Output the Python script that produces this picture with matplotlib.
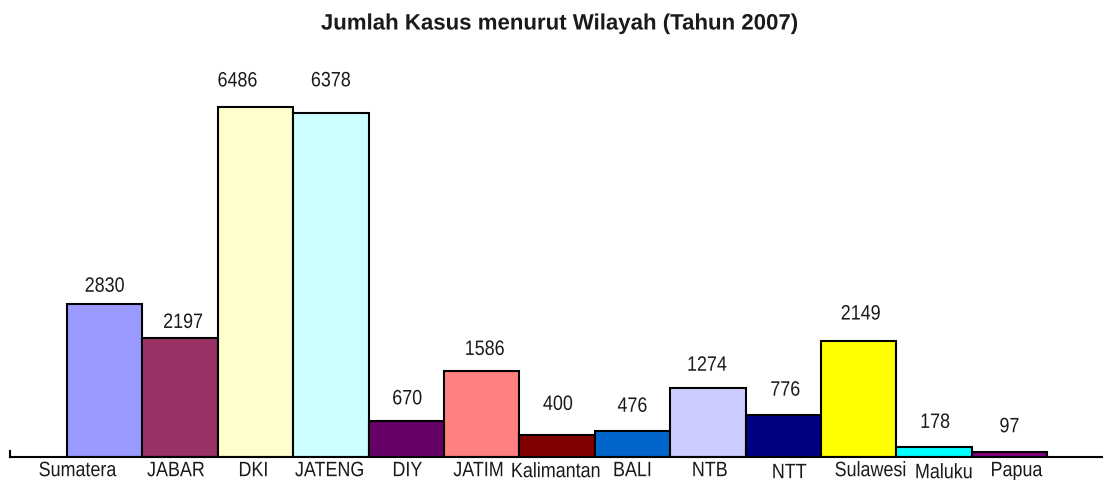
import matplotlib.pyplot as plt
import matplotlib.transforms as mtransforms
import matplotlib.patheffects as patheffects
import numpy as np

plt.rcParams['font.family'] = ['Liberation Sans', 'DejaVu Sans']

wilayah = ['Sumatera', 'JABAR', 'DKI', 'JATENG', 'DIY', 'JATIM', 'Kalimantan',
           'BALI', 'NTB', 'NTT', 'Sulawesi', 'Maluku', 'Papua']
kasus = [2830, 2197, 6486, 6378, 670, 1586, 400, 476, 1274, 776, 2149, 178, 97]

warna = ['#9999FF', '#993366', '#FFFFCC', '#CCFFFF', '#660066', '#FF8080', '#800000',
         '#0066CC', '#CCCCFF', '#000080', '#FFFF00', '#00FFFF', '#800080']

# label nudges in pixels (value labels and category labels were hand-placed)
val_dx = [0, 3, -18, 0, 1, 3, 1, 0, -1, 2, 2, 1, 0]
val_dy = [18, 16, 26, 32, 22, 22, 31, 25, 23, 25, 27, 25, 25]
cat_dx = [-27, -4, -2, -1, 1, -3, -1, 0, 2, 6, 12, 10, 7]
cat_dy = [0, 0, 0, 0, 0, 0, 1, 0, 0, 2, 0, 2, 0]


class Narrow(patheffects.AbstractPathEffect):
    """squeeze glyphs horizontally around their centre (no narrow font here)"""
    def __init__(self, sx):
        super().__init__()
        self.sx = sx

    def draw_path(self, renderer, gc, tpath, affine, rgbFace=None):
        ext = tpath.get_extents()
        cx = (ext.x0 + ext.x1) / 2
        a = mtransforms.Affine2D().translate(-cx, 0).scale(self.sx, 1).translate(cx, 0) + affine
        renderer.draw_path(gc, tpath, a, rgbFace)


narrow = [Narrow(0.86)]
txt_col = '#1a1a1a'

W, H = 1103, 481
fig = plt.figure(figsize=(W / 100, H / 100), dpi=100)

base_y = 458
px_per_unit = 350 / 6486
ymax = 7000
ax_h = ymax * px_per_unit
ax = fig.add_axes([10 / W, (H - base_y) / H, (W - 10) / W, ax_h / H])

x = np.arange(len(wilayah))
ax.bar(x, kasus, width=1.0, color=warna, edgecolor='black', linewidth=1.5, zorder=2)

bar_px = 75.4
xl = -0.5 - 57 / bar_px
ax.set_xlim(xl, xl + (W - 10) / bar_px)
ax.set_ylim(0, ymax)

for i, v in enumerate(kasus):
    ax.annotate(str(v), (x[i], v), xytext=(val_dx[i], val_dy[i]),
                textcoords='offset pixels', ha='center', va='center',
                fontsize=15, color=txt_col, path_effects=narrow)

ax.set_xticks(x)
ax.set_xticklabels(wilayah, fontsize=15, color=txt_col)
ax.tick_params(axis='x', length=0, pad=3)
for lbl, dx, dy in zip(ax.get_xticklabels(), cat_dx, cat_dy):
    lbl.set_transform(lbl.get_transform() +
                      mtransforms.ScaledTranslation(dx / 100, -dy / 100, fig.dpi_scale_trans))
    lbl.set_path_effects(narrow)

ax.set_yticks([])
for s in ['top', 'right']:
    ax.spines[s].set_visible(False)
ax.spines['bottom'].set_linewidth(1.5)
ax.spines['left'].set_linewidth(1.5)
ax.spines['left'].set_bounds(0, 6 / px_per_unit)

fig.text(559 / W, 1 - 25 / H, 'Jumlah Kasus menurut Wilayah (Tahun 2007)',
         ha='center', va='center', fontsize=16, fontweight='bold', color=txt_col,
         path_effects=[Narrow(1.0)])

fig.savefig('out.png', dpi=100)
